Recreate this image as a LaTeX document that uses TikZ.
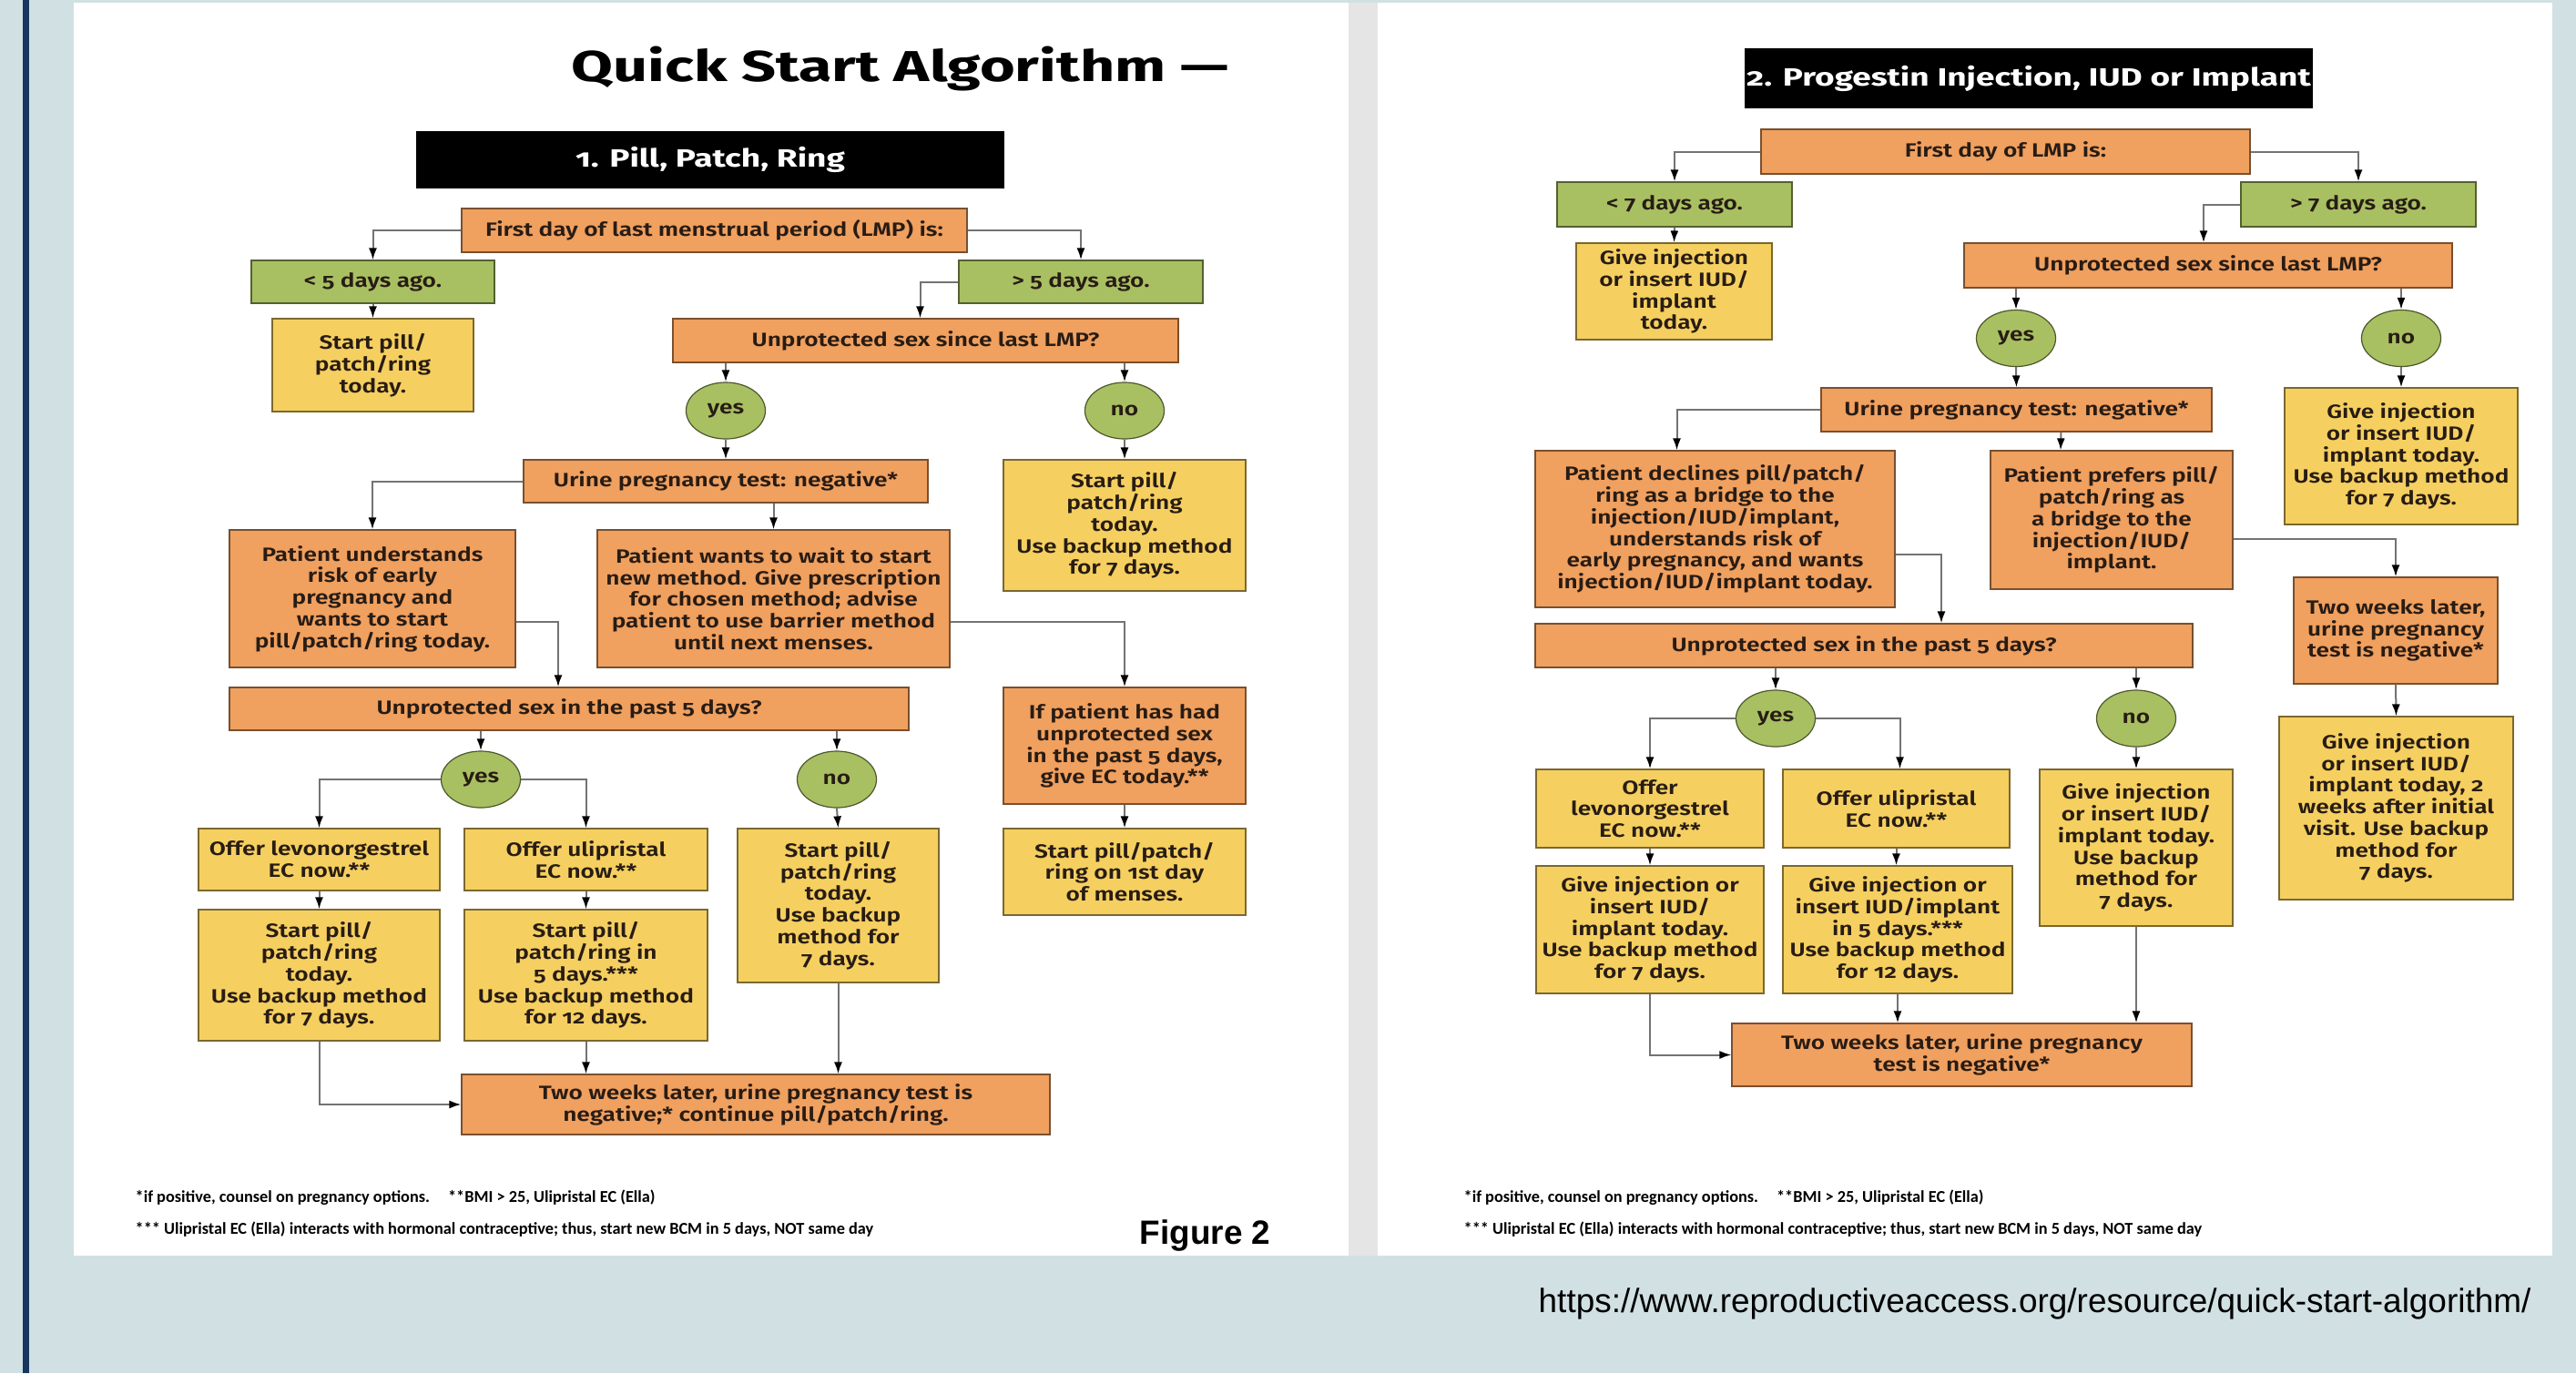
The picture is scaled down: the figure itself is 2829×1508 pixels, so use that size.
\documentclass[tikz,border=0pt]{standalone}
\usepackage{fontspec}
\setmainfont{Fira Sans}[Numbers=OldStyle]
\IfFontExistsTF{Fira Sans SemiBold}
  {\newfontfamily\boxfont{Fira Sans SemiBold}[Numbers=OldStyle, FakeStretch=1.245]}
  {\newfontfamily\boxfont{Fira Sans}[Numbers=OldStyle, FakeStretch=1.245]}
\newfontfamily\titlefont{Fira Sans}[FakeStretch=1.4]
\newfontfamily\hdrfont{Fira Sans}[Numbers=OldStyle, FakeStretch=1.35]
\newfontfamily\notefont{Carlito}
\newfontfamily\arialfont{Liberation Sans}
\usetikzlibrary{calc,arrows.meta,shapes.geometric}
\definecolor{bgblue}{RGB}{209,224,227}
\definecolor{navybar}{RGB}{23,55,94}
\definecolor{sepgray}{RGB}{229,229,229}
\definecolor{boxorange}{RGB}{240,160,95}
\definecolor{boxgreen}{RGB}{168,192,98}
\definecolor{boxyellow}{RGB}{245,208,96}
\definecolor{txtdark}{RGB}{40,28,20}
\begin{document}
\begin{tikzpicture}[x=0.01cm, y=-0.01cm,
    base/.style={rectangle, inner sep=0pt, align=center, line width=0.012cm, text=txtdark,
      font=\boxfont\fontsize{6}{6.75}\selectfont},
    wh/.style 2 args={minimum width=#1*0.01cm, minimum height=#2*0.01cm},
    obox/.style={base, fill=boxorange, draw=boxorange!50!black},
    gbox/.style={base, fill=boxgreen, draw=boxgreen!50!black},
    ybox/.style={base, fill=boxyellow, draw=boxyellow!50!black},
    ans/.style={ellipse, fill=boxgreen, draw=boxgreen!45!black, line width=0.012cm, inner sep=0pt,
      minimum width=0.87cm, minimum height=0.62cm, text=txtdark, font=\boxfont\fontsize{6}{6.75}\selectfont},
    hdr/.style={fill=black, text=white, inner sep=0pt, font=\hdrfont\bfseries\fontsize{7.8}{9}\selectfont},
    arr/.style={draw=black!55, line width=0.02cm, -{Latex[length=0.13cm, width=0.09cm, color=black]}},
    note/.style={anchor=west, inner sep=0pt, font=\notefont\bfseries\fontsize{5.2}{6}\selectfont}]
    \fill[bgblue] (0,0) rectangle (2829,1508);
    \fill[navybar] (25,0) rectangle (32,1508);
    \fill[white] (81,3) rectangle (1481,1379);
    \fill[sepgray] (1481,3) rectangle (1513,1379);
    \fill[white] (1513,3) rectangle (2803,1379);

    \node[anchor=base west, inner sep=0pt, font=\titlefont\bfseries\fontsize{13.5}{16}\selectfont] (title) at (627,89) {Quick Start Algorithm —};
    \node[hdr, wh={646}{63}] (head1) at (780,175.5) {1. Pill, Patch, Ring};
    \node[obox, wh={555}{48}] (first1) at (784.5,253) {First day of last menstrual period (LMP) is:};
    \node[gbox, wh={267}{47}] (lt5) at (409.5,309.5) {< 5 days ago.};
    \node[gbox, wh={268}{47}] (gt5) at (1187,309.5) {> 5 days ago.};
    \node[ybox, wh={221}{102}] (start1) at (409.5,401) {Start pill/\\patch/ring\\today.};
    \node[obox, wh={555}{48}] (unprot1) at (1016.5,374) {Unprotected sex since last LMP?};
    \node[ans] (yes1) at (797,451) {yes};
    \node[ans] (no1) at (1235,451) {no};
    \node[obox, wh={444}{47}] (urine1) at (797,528.5) {Urine pregnancy test: negative*};
    \node[ybox, wh={266}{144}] (nostart1) at (1235,577) {Start pill/\\patch/ring\\today.\\Use backup method\\for 7 days.};
    \node[obox, wh={314}{151}] (under1) at (409,657.5) {Patient understands\\risk of early\\pregnancy and\\wants to start\\pill/patch/ring today.};
    \node[obox, wh={387}{151}] (wait1) at (849.5,657.5) {Patient wants to wait to start\\new method. Give prescription\\for chosen method; advise\\patient to use barrier method\\until next menses.};
    \node[obox, wh={746}{47}] (unprot5a) at (625,778.5) {Unprotected sex in the past 5 days?};
    \node[obox, wh={266}{128}] (ifpat1) at (1235,819) {If patient has had\\unprotected sex\\in the past 5 days,\\give EC today.**};
    \node[ans] (yes1b) at (528,856) {yes};
    \node[ans] (no1b) at (919,856) {no};
    \node[ybox, wh={265}{68}] (levo1) at (350.5,944) {Offer levonorgestrel\\EC now.**};
    \node[ybox, wh={267}{68}] (uli1) at (643.5,944) {Offer ulipristal\\EC now.**};
    \node[ybox, wh={221}{169}] (nostart1b) at (920.5,994.5) {Start pill/\\patch/ring\\today.\\Use backup\\method for\\7 days.};
    \node[ybox, wh={266}{95}] (menses1) at (1235,957.5) {Start pill/patch/\\ring on 1st day\\of menses.};
    \node[ybox, wh={265}{144}] (today1) at (350.5,1071) {Start pill/\\patch/ring\\today.\\Use backup method\\for 7 days.};
    \node[ybox, wh={267}{144}] (fived1) at (643.5,1071) {Start pill/\\patch/ring in\\5 days.***\\Use backup method\\for 12 days.};
    \node[obox, wh={646}{66}] (twowk1) at (830,1213) {Two weeks later, urine pregnancy test is\\negative;* continue pill/patch/ring.};

    \draw[arr] (first1.west) -| (lt5.north);
    \draw[arr] (first1.east) -| (gt5.north);
    \draw[arr] (lt5.south) -- (start1.north);
    \draw[arr] (gt5.west) -| ($(unprot1.north)+(-6,0)$);
    \draw[arr] (yes1.north |- unprot1.south) -- (yes1.north);
    \draw[arr] (no1.north |- unprot1.south) -- (no1.north);
    \draw[arr] (yes1.south) -- (urine1.north);
    \draw[arr] (no1.south) -- (nostart1.north);
    \draw[arr] (urine1.west) -| (under1.north);
    \draw[arr] (wait1.north |- urine1.south) -- (wait1.north);
    \draw[arr] ($(under1.east)+(0,25)$) -| ($(unprot5a.north)+(-12,0)$);
    \draw[arr] ($(wait1.east)+(0,25)$) -| (ifpat1.north);
    \draw[arr] (yes1b.north |- unprot5a.south) -- (yes1b.north);
    \draw[arr] (no1b.north |- unprot5a.south) -- (no1b.north);
    \draw[arr] (yes1b.west) -| (levo1.north);
    \draw[arr] (yes1b.east) -| (uli1.north);
    \draw[arr] (no1b.south) -- (nostart1b.north);
    \draw[arr] (ifpat1.south) -- (menses1.north);
    \draw[arr] (levo1.south) -- (today1.north);
    \draw[arr] (uli1.south) -- (fived1.north);
    \draw[arr] (today1.south) |- (twowk1.west);
    \draw[arr] (fived1.south) -- (fived1.south |- twowk1.north);
    \draw[arr] (nostart1b.south) -- (nostart1b.south |- twowk1.north);

    \node[note] (foot1a) at (148,1315) {*if positive, counsel on pregnancy options.\hspace{0.2cm}**BMI > 25, Ulipristal EC (Ella)};
    \node[note] (foot1b) at (148,1350) {*** Ulipristal EC (Ella) interacts with hormonal contraceptive; thus, start new BCM in 5 days, NOT same day};
    \node[anchor=west, inner sep=0pt, font=\arialfont\bfseries\fontsize{10.5}{12}\selectfont] (fig) at (1251,1357) {Figure 2};

    \node[hdr, wh={624}{66}] (head2) at (2228,86) {2. Progestin Injection, IUD or Implant};
    \node[obox, wh={537}{49}] (first2) at (2202.5,166.5) {First day of LMP is:};
    \node[gbox, wh={258}{49}] (lt7) at (1839,224.5) {< 7 days ago.};
    \node[gbox, wh={258}{49}] (gt7) at (2590,224.5) {> 7 days ago.};
    \node[ybox, wh={215}{106}] (give2) at (1838.5,320) {Give injection\\or insert IUD/\\implant\\today.};
    \node[obox, wh={536}{49}] (unprot2) at (2425,291.5) {Unprotected sex since last LMP?};
    \node[ans] (yes2) at (2214,371.5) {yes};
    \node[ans] (no2) at (2637,371.5) {no};
    \node[obox, wh={429}{48}] (urine2) at (2214.5,450) {Urine pregnancy test: negative*};
    \node[ybox, wh={256}{150}] (noinj2) at (2637,501) {Give injection\\or insert IUD/\\implant today.\\Use backup method\\for 7 days.};
    \node[obox, wh={395}{172}] (decl2) at (1883.5,581) {Patient declines pill/patch/\\ring as a bridge to the\\injection/IUD/implant,\\understands risk of\\early pregnancy, and wants\\injection/IUD/implant today.};
    \node[obox, wh={266}{152}] (pref2) at (2319,571) {Patient prefers pill/\\patch/ring as\\a bridge to the\\injection/IUD/\\implant.};
    \node[obox, wh={224}{117}] (twowk2r) at (2631,692.5) {Two weeks later,\\urine pregnancy\\test is negative*};
    \node[obox, wh={722}{48}] (unprot5b) at (2047,709) {Unprotected sex in the past 5 days?};
    \node[ans] (yes2b) at (1950,789) {yes};
    \node[ans] (no2b) at (2346,789) {no};
    \node[ybox, wh={257}{201}] (inj2wk) at (2631.5,887.5) {Give injection\\or insert IUD/\\implant today, 2\\weeks after initial\\visit. Use backup\\method for\\7 days.};
    \node[ybox, wh={250}{86}] (levo2) at (1812,888) {Offer\\levonorgestrel\\EC now.**};
    \node[ybox, wh={249}{86}] (uli2) at (2082.5,888) {Offer ulipristal\\EC now.**};
    \node[ybox, wh={212}{172}] (noinj2b) at (2346,931) {Give injection\\or insert IUD/\\implant today.\\Use backup\\method for\\7 days.};
    \node[ybox, wh={250}{140}] (today2) at (1812,1021) {Give injection or\\insert IUD/\\implant today.\\Use backup method\\for 7 days.};
    \node[ybox, wh={252}{140}] (fived2) at (2084,1021) {Give injection or\\insert IUD/implant\\in 5 days.***\\Use backup method\\for 12 days.};
    \node[obox, wh={505}{69}] (twowk2) at (2154.5,1158.5) {Two weeks later, urine pregnancy\\test is negative*};

    \draw[arr] (first2.west) -| (lt7.north);
    \draw[arr] (first2.east) -| (gt7.north);
    \draw[arr] (lt7.south) -- (give2.north);
    \draw[arr] (gt7.west) -| ($(unprot2.north)+(-5,0)$);
    \draw[arr] (yes2.north |- unprot2.south) -- (yes2.north);
    \draw[arr] (no2.north |- unprot2.south) -- (no2.north);
    \draw[arr] (yes2.south) -- (urine2.north);
    \draw[arr] (no2.south) -- (noinj2.north);
    \draw[arr] (urine2.west) -| ($(decl2.north)+(-42,0)$);
    \draw[arr] ($(urine2.south)+(49,0)$) -- ($(pref2.north)+(-56,0)$);
    \draw[arr] ($(decl2.east)+(0,28)$) -| ($(unprot5b.north)+(85,0)$);
    \draw[arr] ($(pref2.east)+(0,21)$) -| (twowk2r.north);
    \draw[arr] (yes2b.north |- unprot5b.south) -- (yes2b.north);
    \draw[arr] (no2b.north |- unprot5b.south) -- (no2b.north);
    \draw[arr] (twowk2r.south) -- (inj2wk.north);
    \draw[arr] (yes2b.west) -| (levo2.north);
    \draw[arr] (yes2b.east) -| ($(uli2.north)+(4,0)$);
    \draw[arr] (no2b.south) -- (noinj2b.north);
    \draw[arr] (levo2.south) -- (today2.north);
    \draw[arr] (uli2.south) -- (uli2.south |- fived2.north);
    \draw[arr] (today2.south) |- (twowk2.west);
    \draw[arr] (fived2.south) -- (fived2.south |- twowk2.north);
    \draw[arr] (noinj2b.south) -- (noinj2b.south |- twowk2.north);

    \node[note] (foot2a) at (1607,1315) {*if positive, counsel on pregnancy options.\hspace{0.2cm}**BMI > 25, Ulipristal EC (Ella)};
    \node[note] (foot2b) at (1607,1350) {*** Ulipristal EC (Ella) interacts with hormonal contraceptive; thus, start new BCM in 5 days, NOT same day};
    \node[anchor=west, inner sep=0pt, font=\arialfont\fontsize{10.5}{12}\selectfont] (url) at (1689,1432) {https://www.reproductiveaccess.org/resource/quick-start-algorithm/};
\end{tikzpicture}
\end{document}
